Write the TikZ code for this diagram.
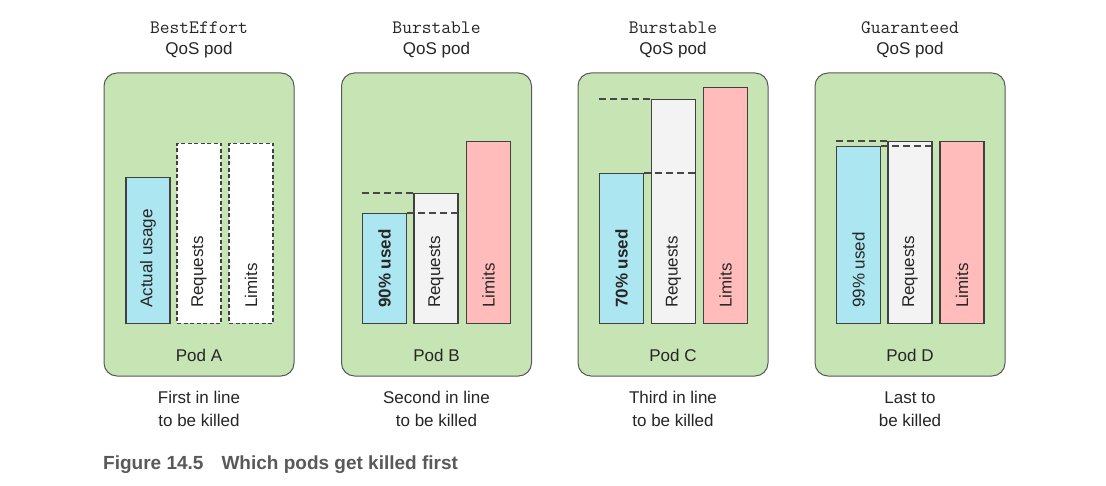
\documentclass[tikz,border=0pt]{standalone}
\usepackage{fontspec}
\setmainfont{Liberation Sans}
\begin{document}
\begin{tikzpicture}[x=1pt,y=-1pt,
  txt/.style={font=\fontsize{17}{20}\selectfont, inner sep=0pt, text=black!85},
  ttl/.style={font=\fontsize{19}{22}\selectfont\ttfamily, inner sep=0pt, anchor=base, text=black!85},
  podbox/.style={draw=black!65, line width=1pt, fill=podgreen, rounded corners=13pt,
    minimum width=190pt, minimum height=303pt, inner sep=0pt},
  bar/.style={draw=black!75, line width=1.1pt, minimum width=44pt, inner sep=0pt, anchor=south},
  usedbar/.style={bar, fill=usedblue},
  reqbar/.style={bar, fill=reqgray},
  limbar/.style={bar, fill=limpink},
  openbar/.style={bar, fill=white, dashed, dash pattern=on 4pt off 2.5pt},
  vlab/.style={txt, rotate=90, anchor=west},
  lvl/.style={draw=black!72, line width=1.3pt, dash pattern=on 7pt off 4pt},
]
\definecolor{podgreen}{HTML}{C6E4B4}
\definecolor{usedblue}{HTML}{ACE6F1}
\definecolor{reqgray}{HTML}{F3F3F3}
\definecolor{limpink}{HTML}{FFBCBA}
\useasboundingbox (0,0) rectangle (1106,486);
\fill[white] (0,0) rectangle (1106,486);

% ---------- Pod A ----------
\node[ttl] (ta1) at (199,34) {BestEffort};
\node[txt, anchor=base] (ta2) at (199,55) {QoS pod};
\node[podbox] (pa) at (199,224.5) {};
\node[usedbar, minimum height=146pt] (au) at (148,324) {};
\node[openbar, minimum height=180pt] (ar) at (199,324) {};
\node[openbar, minimum height=180pt] (al) at (251,324) {};
\node[vlab] at (148,308) {Actual usage};
\node[vlab] at (199,308) {Requests};
\node[vlab] at (251,308) {Limits};
\node[txt, anchor=base] (na) at (199,361) {Pod A};
\node[txt, anchor=base] (ka1) at (199,403) {First in line};
\node[txt, anchor=base] (ka2) at (199,426) {to be killed};

% ---------- Pod B ----------
\node[ttl] (tb1) at (436.5,34) {Burstable};
\node[txt, anchor=base] (tb2) at (436.5,55) {QoS pod};
\node[podbox] (pb) at (436.5,224.5) {};
\node[usedbar, minimum height=110pt] (bu) at (384.5,324) {};
\node[reqbar, minimum height=130pt] (br) at (436,324) {};
\node[limbar, minimum height=182pt] (bl) at (488.5,324) {};
\draw[lvl] (bu.west |- br.north) -- (br.north west);
\draw[lvl] (bu.north east) -- (br.east |- bu.north);
\node[vlab, font=\fontsize{17}{20}\selectfont\bfseries] at (384.5,308) {90\% used};
\node[vlab] at (436,308) {Requests};
\node[vlab] at (488.5,308) {Limits};
\node[txt, anchor=base] (nb) at (436.5,361) {Pod B};
\node[txt, anchor=base] (kb1) at (436.5,403) {Second in line};
\node[txt, anchor=base] (kb2) at (436.5,426) {to be killed};

% ---------- Pod C ----------
\node[ttl] (tc1) at (673,34) {Burstable};
\node[txt, anchor=base] (tc2) at (673,55) {QoS pod};
\node[podbox] (pc) at (673,224.5) {};
\node[usedbar, minimum height=150pt] (cu) at (621.5,324) {};
\node[reqbar, minimum height=224pt] (cr) at (673.5,324) {};
\node[limbar, minimum height=236pt] (cl) at (725.5,324) {};
\draw[lvl] (cu.west |- cr.north) -- (cr.north west);
\draw[lvl] (cu.north east) -- (cr.east |- cu.north);
\node[vlab, font=\fontsize{17}{20}\selectfont\bfseries] at (621.5,308) {70\% used};
\node[vlab] at (673.5,308) {Requests};
\node[vlab] at (725.5,308) {Limits};
\node[txt, anchor=base] (nc) at (673,361) {Pod C};
\node[txt, anchor=base] (kc1) at (673,403) {Third in line};
\node[txt, anchor=base] (kc2) at (673,426) {to be killed};

% ---------- Pod D ----------
\node[ttl] (td1) at (910,34) {Guaranteed};
\node[txt, anchor=base] (td2) at (910,55) {QoS pod};
\node[podbox] (pd) at (910,224.5) {};
\node[usedbar, minimum height=177pt] (du) at (858.5,324) {};
\node[reqbar, minimum height=182pt] (dr) at (910,324) {};
\node[limbar, minimum height=182pt] (dl) at (962,324) {};
\draw[lvl] (du.west |- dr.north) -- (dr.north west);
\draw[lvl] (du.north east) -- (dr.east |- du.north);
\node[vlab] at (858.5,308) {99\% used};
\node[vlab] at (910,308) {Requests};
\node[vlab] at (962,308) {Limits};
\node[txt, anchor=base] (nd) at (910,361) {Pod D};
\node[txt, anchor=base] (kd1) at (910,403) {Last to};
\node[txt, anchor=base] (kd2) at (910,426) {be killed};

% ---------- Caption ----------
\node[anchor=base west, inner sep=0pt, text=black!65,
  font=\fontsize{19}{22}\selectfont\bfseries] (cap) at (103,469)
  {Figure 14.5\hskip 18pt Which pods get killed first};
\end{tikzpicture}
\end{document}
